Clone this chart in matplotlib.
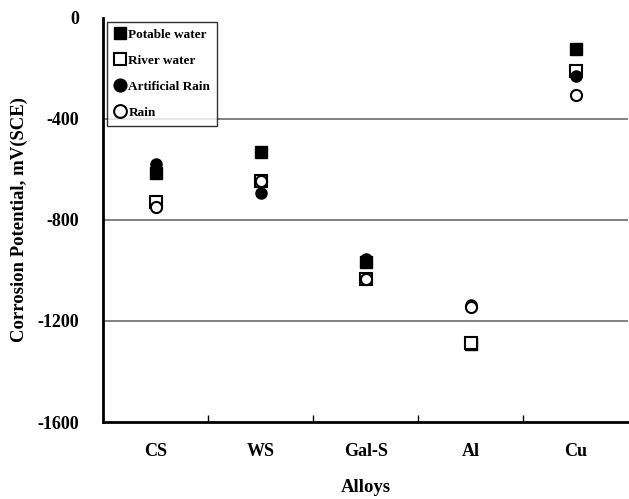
import matplotlib.pyplot as plt
import numpy as np

plt.rcParams["font.family"] = ["Liberation Serif", "DejaVu Serif"]
plt.rcParams["font.weight"] = "bold"

alloys = ["CS", "WS", "Gal-S", "Al", "Cu"]
potable_water = [-615, -530, -965, -1290, -123]
river_water = [-730, -645, -1035, -1287, -210]
artificial_rain = [-580, -695, -955, -1137, -230]
rain = [-750, -645, -1035, -1145, -305]

x = np.arange(1, len(alloys) + 1)

fig = plt.figure(figsize=(6.29, 4.99), dpi=100)
ax = fig.add_axes([0.1638, 0.1543, 0.835, 0.8097])

for yv in (-400, -800, -1200):
    ax.axhline(yv, color="#808080", lw=1.4, zorder=1)

ms = 8
ax.plot(x, potable_water, "s", color="black", ms=ms, label="Potable water", zorder=3)
ax.plot(x, river_water, "s", mfc="white", mec="black", mew=1.5, ms=ms, label="River water", zorder=4)
ax.plot(x, artificial_rain, "o", color="black", ms=ms, label="Artificial Rain", zorder=5)
ax.plot(x, rain, "o", mfc="white", mec="black", mew=1.5, ms=ms, label="Rain", zorder=6)

ax.set_xlim(0.5, 5.5)
ax.set_ylim(-1600, 0)
ax.set_yticks([0, -400, -800, -1200, -1600])
ax.set_yticklabels(["0", "-400", "-800", "-1200", "-1600"])
ax.set_xticks(x)
ax.set_xticklabels(alloys)
ax.set_xticks(np.arange(1.5, 5.5, 1), minor=True)
ax.tick_params(axis="x", which="major", length=0, pad=15, labelsize=13)
ax.tick_params(axis="x", which="minor", direction="in", length=5, width=1)
ax.tick_params(axis="y", length=0, pad=17, labelsize=13)

for s in ("left", "bottom"):
    ax.spines[s].set_linewidth(2)
for s in ("top", "right"):
    ax.spines[s].set_visible(False)

ax.set_xlabel("Alloys", fontsize=13.5, fontweight="bold", labelpad=14)
ax.set_ylabel("Corrosion Potential, mV(SCE)", fontsize=13.5, fontweight="bold", labelpad=7)

leg = ax.legend(loc="upper left", bbox_to_anchor=(0.008, 0.99), frameon=True, fancybox=False,
                edgecolor="black", fontsize=9.5, handletextpad=0.1, handlelength=1.0,
                labelspacing=1.05, borderpad=0.5, borderaxespad=0.0, markerscale=1.15)
leg.get_frame().set_linewidth(1.0)
for t in leg.get_texts():
    t.set_fontweight("bold")

fig.savefig("out.png", dpi=100)
